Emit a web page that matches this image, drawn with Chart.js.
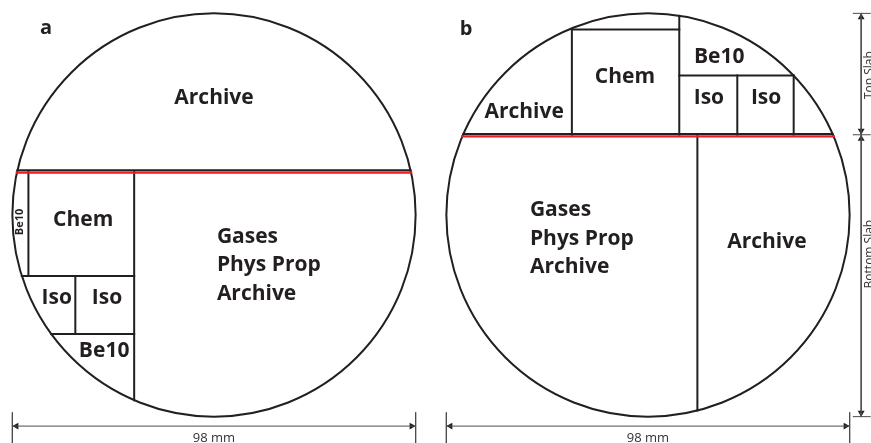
<!DOCTYPE html>
<html>
<head>
<meta charset="utf-8">
<script src="https://cdn.jsdelivr.net/npm/chart.js@4.4.0/dist/chart.umd.min.js"></script>
<style>
body { margin: 0; background: #fff; }
#wrap { width: 871px; height: 443px; }
</style>
</head>
<body>
<div id="wrap"><canvas id="corte" width="871" height="443"></canvas></div>
<script>
// Planes de corte del testigo, todo en mm desde el centro del testigo
// (un valor de +-49 quiere decir "hasta el borde")
const diametro = 98
const R = diametro / 2
const cortes = [10.7, 19.5]          // altura del corte entre losa superior e inferior, a y b

// plan a: [x, yDesde, yHasta] y [y, xDesde, xHasta]
const verticalesA = [[-19.4, 10.7, -49], [-45.1, 10.7, -14.8], [-33.7, -14.8, -28.9]]
const horizontalesA = [[-14.8, -49, -19.4], [-28.9, -49, -19.4]]
// plan b
const verticalesB = [[-18.5, 19.5, 45.1], [7.6, 19.5, 49], [21.7, 19.5, 33.9], [35.4, 19.5, 33.9], [12.0, 19.5, -49]]
const horizontalesB = [[45.1, -18.5, 7.6], [33.9, 7.6, 49]]

// textos [texto, x, y]
const textosA = [['Archive', 0, 28.4], ['Chem', -31.8, -1.2], ['Iso', -38.2, -20.2], ['Iso', -26.0, -20.2], ['Be10', -26.7, -33.0]]
const textosB = [['Archive', -30.1, 25.0], ['Chem', -5.6, 33.5], ['Be10', 17.3, 38.4], ['Iso', 14.8, 28.4], ['Iso', 28.7, 28.4], ['Archive', 28.9, -6.6]]
const bloqueA = [['Gases', 'Phys Prop', 'Archive'], 0.7, -5.3]
const bloqueB = [['Gases', 'Phys Prop', 'Archive'], -28.7, 1.2]
const losas = [['Top Slab', 34.0], ['Bottom Slab', -9.5]]

const S = 4.115                     // px por mm
const despB = 434 / S               // centro del plan b respecto al a
const negro = '#231f20'
const rojo = '#ed1c24'
const gris = '#4d4d4d'

function bordeX(y) { return Math.sqrt(Math.max(R * R - y * y, 0)) }
function recorta(v, lim) { return Math.sign(v) * Math.min(Math.abs(v), lim) }

let datasets = []
function linea(x1, y1, x2, y2, color, ancho) {
    datasets.push({
        data: [{x: x1, y: y1}, {x: x2, y: y2}],
        showLine: true, pointRadius: 0, borderColor: color, borderWidth: ancho,
        borderCapStyle: 'square'
    })
}

function plan(dx, corte, verts, hors) {
    // corte entre losas: negro arriba y rojo debajo
    linea(dx - bordeX(corte + 0.2), corte + 0.2, dx + bordeX(corte + 0.2), corte + 0.2, negro, 2)
    linea(dx - bordeX(corte - 0.4), corte - 0.4, dx + bordeX(corte - 0.4), corte - 0.4, rojo, 2.4)
    verts.forEach(v => {
        let lim = bordeX(v[0])
        linea(dx + v[0], recorta(v[1], lim), dx + v[0], recorta(v[2], lim), negro, 2)
    })
    hors.forEach(h => {
        let lim = bordeX(h[0])
        linea(dx + recorta(h[1], lim), h[0], dx + recorta(h[2], lim), h[0], negro, 2)
    })
}
plan(0, cortes[0], verticalesA, horizontalesA)
plan(despB, cortes[1], verticalesB, horizontalesB)

// cotas
const yCota = -51.3
const xCota = despB + 51.8
const flecha = 4 / S
;[0, despB].forEach(dx => {
    linea(dx - R, yCota, dx + R, yCota, gris, 1)
    linea(dx - R, -48.0, dx - R, -56, gris, 1)
    linea(dx + R, -48.0, dx + R, -56, gris, 1)
    datasets.push({
        data: [{x: dx - R + flecha, y: yCota}, {x: dx + R - flecha, y: yCota}],
        pointStyle: 'triangle', pointRadius: 4, rotation: [-90, 90],
        backgroundColor: negro, borderWidth: 0
    })
})
linea(xCota, R, xCota, -R, gris, 1)
;[R, cortes[1], -R].forEach(y => linea(despB + 49.8, y, despB + 54, y, gris, 1))
datasets.push({
    data: [{x: xCota, y: R - flecha}, {x: xCota, y: cortes[1] + flecha},
           {x: xCota, y: cortes[1] - flecha}, {x: xCota, y: -R + flecha}],
    pointStyle: 'triangle', pointRadius: 4, rotation: [0, 180, 0, 180],
    backgroundColor: negro, borderWidth: 0
})

// circulos y textos
const dibujo = {
    id: 'dibujo',
    beforeDatasetsDraw(chart) {
        const {ctx, scales: {x, y}} = chart
        const r = x.getPixelForValue(R) - x.getPixelForValue(0)
        ctx.save()
        ctx.strokeStyle = negro
        ctx.lineWidth = 2
        ;[0, despB].forEach(dx => {
            ctx.beginPath()
            ctx.arc(x.getPixelForValue(dx), y.getPixelForValue(0), r, 0, Math.PI * 2)
            ctx.stroke()
        })
        ctx.restore()
    },
    afterDatasetsDraw(chart) {
        const {ctx, scales: {x, y}} = chart
        ctx.save()
        ctx.fillStyle = negro
        ctx.textAlign = 'center'
        ctx.textBaseline = 'middle'
        ctx.font = 'bold 21px "Open Sans"'
        textosA.forEach(t => ctx.fillText(t[0], x.getPixelForValue(t[1]), y.getPixelForValue(t[2])))
        textosB.forEach(t => ctx.fillText(t[0], x.getPixelForValue(despB + t[1]), y.getPixelForValue(t[2])))
        ctx.textAlign = 'left'
        ;[[bloqueA, 0], [bloqueB, despB]].forEach(([b, dx]) => {
            b[0].forEach((txt, i) => ctx.fillText(txt, x.getPixelForValue(dx + b[1]), y.getPixelForValue(b[2]) + i * 28.5))
        })
        // letras de panel
        ctx.textAlign = 'center'
        ctx.font = 'bold 20px "Open Sans"'
        ctx.fillText('a', x.getPixelForValue(-40.8), y.getPixelForValue(45.4))
        ctx.fillText('b', x.getPixelForValue(despB - 44.2), y.getPixelForValue(45.2))
        // Be10 girado en la tira del plan a
        ctx.save()
        ctx.translate(x.getPixelForValue(-47.1), y.getPixelForValue(-1.7))
        ctx.rotate(-Math.PI / 2)
        ctx.font = 'bold 11px "Open Sans"'
        ctx.fillText('Be10', 0, 0)
        ctx.restore()
        // cotas
        ctx.font = '13px "Open Sans"'
        ctx.fillStyle = '#333'
        ;[0, despB].forEach(dx => ctx.fillText(diametro + ' mm', x.getPixelForValue(dx), y.getPixelForValue(-54.3)))
        ctx.font = '12px "Open Sans"'
        losas.forEach(l => {
            ctx.save()
            ctx.translate(x.getPixelForValue(despB + 53.9), y.getPixelForValue(l[1]))
            ctx.rotate(-Math.PI / 2)
            ctx.fillText(l[0], 0, 0)
            ctx.restore()
        })
        ctx.restore()
    }
}

new Chart(document.getElementById('corte'), {
    type: 'scatter',
    data: { datasets: datasets },
    options: {
        responsive: false,
        animation: false,
        events: [],
        layout: { padding: 0, autoPadding: false },
        plugins: { legend: { display: false }, tooltip: { enabled: false } },
        scales: {
            x: { type: 'linear', display: false, min: -214 / S, max: 657 / S },
            y: { type: 'linear', display: false, min: -228 / S, max: 215 / S }
        }
    },
    plugins: [dibujo]
})
</script>
</body>
</html>
